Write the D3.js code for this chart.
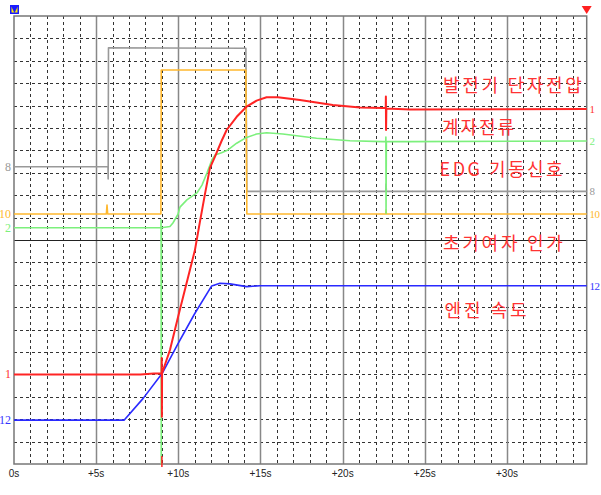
<!DOCTYPE html>
<html>
<head>
<meta charset="utf-8">
<script src="https://cdn.jsdelivr.net/npm/d3@7"></script>
<style>
  html, body { margin: 0; padding: 0; background: #fff; }
  svg { display: block; }
  .tick-label { font-family: "Liberation Sans", Arial, sans-serif; font-size: 10px; fill: #222; }
  .ch-label { font-family: "Liberation Serif", serif; font-size: 12px; }
  .ch-right { font-size: 11px; letter-spacing: -0.5px; }
  .note { font-family: "Noto Sans CJK KR", sans-serif; font-size: 18px; fill: #ff3333; }
</style>
</head>
<body>
<svg id="chart" width="601" height="495"></svg>
<script>
// time axis (seconds) and grid divisions
const TIME_TICKS = [0, 5, 10, 15, 20, 25, 30];
const TIME_LABELS = ['0s', '+5s', '+10s', '+15s', '+20s', '+25s', '+30s'];
const T_MAX = 34.85;

// each trace as [seconds, grid divisions from centre]
const ch8 = [  // gray
  [0, 3.27], [5.72, 3.27], [5.73, 2.72], [5.75, 8.58], [9.06, 8.57], [14.11, 8.56],
  [14.17, 2.17], [22.62, 2.17], [22.64, 2.5], [22.66, 2.17], [34.85, 2.17]
];
const ch10 = [ // orange
  [0, 1.16], [5.62, 1.16], [5.66, 1.56], [5.70, 1.16], [8.94, 1.16], [8.96, 7.59],
  [14.11, 7.59], [14.17, 1.16], [22.62, 1.16], [22.64, 1.34], [22.66, 1.16], [34.85, 1.16]
];
const ch2 = [  // green
  [0, 0.55], [8.94, 0.55], [8.95, 0.9], [8.96, -10], [8.97, 0.55], [9.49, 0.6],
  [9.67, 0.76], [9.98, 1.15], [10.1, 1.47], [10.52, 1.79], [11.13, 2.1], [11.44, 2.45],
  [11.74, 2.99], [12.04, 3.57], [12.23, 3.79], [12.63, 3.9], [13.02, 4.02], [13.55, 4.32],
  [14.15, 4.58], [14.76, 4.73], [15.37, 4.79], [16.36, 4.73], [18.41, 4.54], [20.44, 4.43],
  [22.45, 4.39], [22.62, 4.39], [22.63, 4.6], [22.64, 1.19], [22.66, 4.39], [24.09, 4.39],
  [34.85, 4.42]
];
const ch1 = [  // red
  [0, -6.0], [7.7, -6.0], [8.5, -5.96], [8.98, -5.95], [8.99, -5.27], [9.0, -7.89],
  [9.01, -5.95], [9.18, -5.58], [9.49, -4.91], [9.99, -3.42], [10.5, -1.93], [11.01, -0.45],
  [11.31, 0.8], [11.62, 2.05], [11.92, 3.21], [12.23, 3.72], [12.63, 4.42], [12.94, 4.91],
  [13.55, 5.5], [14.15, 5.95], [14.76, 6.22], [15.37, 6.37], [16.06, 6.37], [17.4, 6.25],
  [19.4, 6.03], [21.05, 5.92], [22.45, 5.89], [22.62, 5.89], [22.63, 6.41], [22.64, 4.91],
  [22.66, 5.87], [24.09, 5.83], [34.85, 5.85]
];
const ch12 = [ // blue
  [0, -8.04], [6.71, -8.04], [7.86, -7.07], [9.02, -5.95], [9.99, -4.61], [11.01, -3.27],
  [12.03, -2.05], [12.53, -1.93], [13.14, -1.96], [14.15, -2.08], [14.96, -2.04], [34.85, -2.04]
];

const CHANNELS = ['1', '2', '8', '10', '12'];
const NOTES = ['발전기 단자전압', '계자전류', 'EDG 기동신호', '초기여자 인가', '엔진 속도'];
const CURSOR_T = 9.0;

const svg = d3.select('#chart');
const x = d3.scaleLinear().domain([0, T_MAX]).range([14, 586.7]);
const y = d3.scaleLinear().domain([-10, 10]).range([464, 16]);

// Grid: dashed every second / division
const grid = svg.append('g');
grid.selectAll('.vminor')
  .data(d3.range(1, 35).filter(t => t % 5 !== 0))
  .join('line')
  .attr('x1', d => Math.round(x(d)) + 0.5).attr('x2', d => Math.round(x(d)) + 0.5)
  .attr('y1', y(10)).attr('y2', y(-10))
  .attr('stroke', '#333').attr('stroke-dasharray', '3,3');
grid.selectAll('.hminor')
  .data(d3.range(-9, 10).filter(v => v !== 0))
  .join('line')
  .attr('x1', x(0)).attr('x2', x(T_MAX))
  .attr('y1', d => Math.round(y(d)) + 0.5).attr('y2', d => Math.round(y(d)) + 0.5)
  .attr('stroke', '#333').attr('stroke-dasharray', '3,3');
// major verticals every 5 s
grid.selectAll('.vmajor')
  .data(TIME_TICKS.slice(1))
  .join('line')
  .attr('x1', d => Math.round(x(d)) + 0.5).attr('x2', d => Math.round(x(d)) + 0.5)
  .attr('y1', y(10)).attr('y2', y(-10))
  .attr('stroke', '#888').attr('stroke-width', 1.5);
// centre line
grid.append('line')
  .attr('x1', x(0)).attr('x2', x(T_MAX))
  .attr('y1', Math.round(y(0)) + 0.5).attr('y2', Math.round(y(0)) + 0.5)
  .attr('stroke', '#222');
// frame
svg.append('rect')
  .attr('x', x(0)).attr('y', y(10))
  .attr('width', x(T_MAX) - x(0)).attr('height', y(-10) - y(10))
  .attr('fill', 'none').attr('stroke', '#777').attr('stroke-width', 1.5);

// time labels
svg.selectAll('.tick-label')
  .data(TIME_TICKS)
  .join('text')
  .attr('class', 'tick-label')
  .attr('x', d => x(d)).attr('y', 477)
  .attr('text-anchor', 'middle')
  .text((d, i) => TIME_LABELS[i]);

// Traces
const line = d3.line().x(d => x(d[0])).y(d => y(d[1]));
const traces = [
  { data: ch8, color: '#999999', w: 1.6 },
  { data: ch10, color: '#ffb82e', w: 1.6 },
  { data: ch2, color: '#7cf07c', w: 1.6 },
  { data: ch12, color: '#2a2aff', w: 1.6 },
  { data: ch1, color: '#ff2424', w: 2 }
];
svg.append('g').selectAll('path')
  .data(traces)
  .join('path')
  .attr('d', d => line(d.data))
  .attr('fill', 'none')
  .attr('stroke', d => d.color)
  .attr('stroke-width', d => d.w)
  .attr('stroke-linejoin', 'round');

// trigger cursor tick below the frame
svg.append('line')
  .attr('x1', x(CURSOR_T)).attr('x2', x(CURSOR_T))
  .attr('y1', 456).attr('y2', 467)
  .attr('stroke', '#ff2424').attr('stroke-width', 1.5);

// Channel labels at both ends
const chColor = { '1': '#ff3333', '2': '#7cf07c', '8': '#999999', '10': '#ffb82e', '12': '#3535ff' };
const chStart = { '1': ch1[0][1], '2': ch2[0][1], '8': ch8[0][1], '10': ch10[0][1], '12': ch12[0][1] };
const chEnd = {
  '1': ch1[ch1.length - 1][1], '2': ch2[ch2.length - 1][1], '8': ch8[ch8.length - 1][1],
  '10': ch10[ch10.length - 1][1], '12': ch12[ch12.length - 1][1]
};
svg.selectAll('.ch-left')
  .data(CHANNELS)
  .join('text')
  .attr('class', 'ch-label ch-left')
  .attr('x', 11).attr('y', d => y(chStart[d]) + 4)
  .attr('text-anchor', 'end')
  .attr('fill', d => chColor[d])
  .text(d => d);
svg.selectAll('.ch-right')
  .data(CHANNELS)
  .join('text')
  .attr('class', 'ch-label ch-right')
  .attr('x', 589.5).attr('y', d => y(chEnd[d]) + 4)
  .attr('fill', d => chColor[d])
  .text(d => d);

// Annotations (in time / division units)
const notePos = [[26.1, 6.6, 139], [26.05, 4.73, 72], [25.9, 2.85, 123], [26.1, -0.45, 120], [26.2, -3.44, 82]];
svg.selectAll('.note')
  .data(NOTES)
  .join('text')
  .attr('class', 'note')
  .attr('x', (d, i) => x(notePos[i][0]))
  .attr('y', (d, i) => y(notePos[i][1]))
  .attr('textLength', (d, i) => notePos[i][2])
  .attr('lengthAdjust', 'spacing')
  .text(d => d);

// Channel markers at the top
const mk = svg.append('g');
mk.append('rect').attr('x', 10).attr('y', 5).attr('width', 9).attr('height', 9).attr('fill', '#1a1aff');
mk.append('rect').attr('x', 11.5).attr('y', 6.5).attr('width', 6).attr('height', 6).attr('fill', '#ffee00');
mk.append('path').attr('d', 'M11,6 L18,6 L14.5,13 Z').attr('fill', '#1a1aff');
svg.append('path')
  .attr('d', `M${x(T_MAX) - 5},6 L${x(T_MAX) + 5},6 L${x(T_MAX)},14 Z`)
  .attr('fill', '#ff2020');
</script>
</body>
</html>
